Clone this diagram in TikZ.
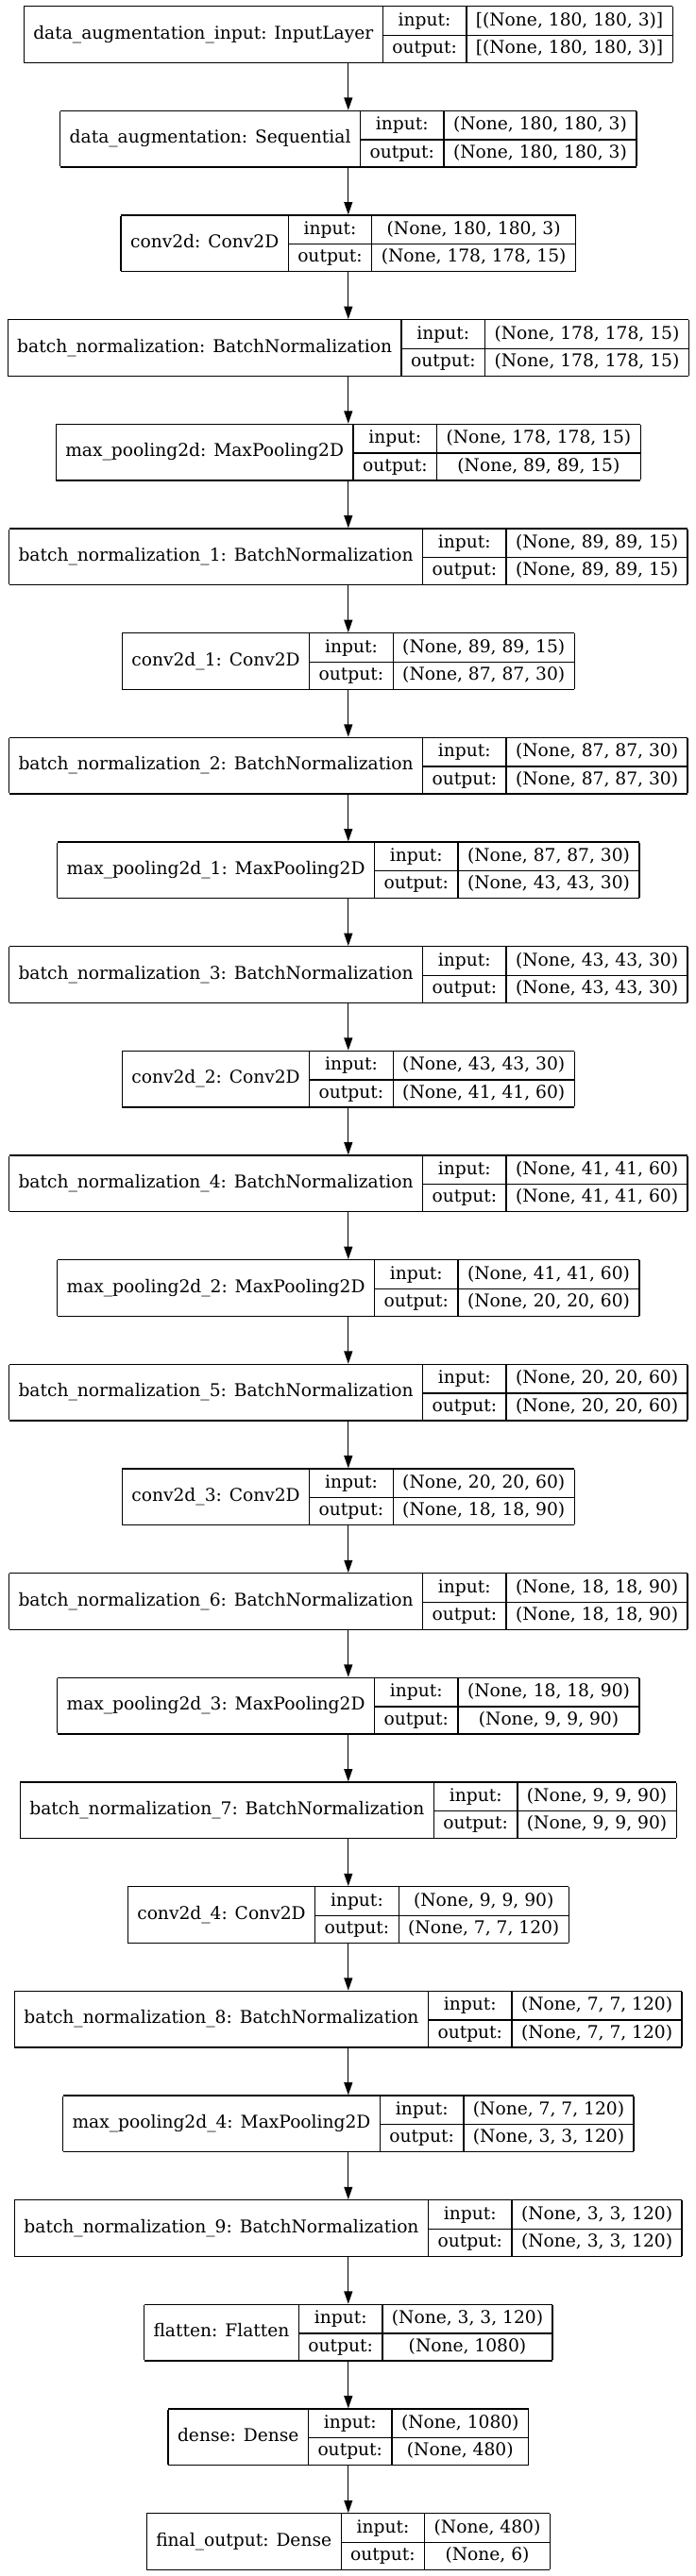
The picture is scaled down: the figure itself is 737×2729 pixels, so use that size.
\documentclass[tikz,border=0pt]{standalone}
\usepackage{fontspec}
\setmainfont{DejaVu Serif}
\usetikzlibrary{arrows.meta}
\newcommand\lyfont{\fontsize{18.73pt}{22pt}\selectfont}
\setlength\tabcolsep{10bp}
\setlength\arrayrulewidth{1.33bp}
\renewcommand\arraystretch{0}
\newcommand\rs{\rule[-9.27bp]{0pt}{29.17bp}}
\tikzset{
  layer/.style={rectangle, draw=none, inner sep=0pt, outer sep=0pt, font=\lyfont, text=black},
  arr/.style={-{Triangle[length=13.3bp,width=8.9bp]}, line width=1.33bp, draw=black}
}
\newcommand\mklayer[5]{%
  \node[layer] (#1) at (368.8bp, {-(36.5+#5*110.67)*1bp}) {%
    \begin{tabular}{|c|c|c|}\hline
      & input:\rs & #3\\ \cline{2-3}
      \raisebox{15.2bp}[0pt][0pt]{#2} & output:\rs & #4\\ \hline
    \end{tabular}};%
}
\begin{document}
\begin{tikzpicture}
\useasboundingbox[fill=white] (0,0) rectangle (737bp,-2729bp);
\mklayer{L0}{data\_augmentation\_input: InputLayer}{[(None, 180, 180, 3)]}{[(None, 180, 180, 3)]}{0}
\mklayer{L1}{data\_augmentation: Sequential}{(None, 180, 180, 3)}{(None, 180, 180, 3)}{1}
\mklayer{L2}{conv2d: Conv2D}{(None, 180, 180, 3)}{(None, 178, 178, 15)}{2}
\mklayer{L3}{batch\_normalization: BatchNormalization}{(None, 178, 178, 15)}{(None, 178, 178, 15)}{3}
\mklayer{L4}{max\_pooling2d: MaxPooling2D}{(None, 178, 178, 15)}{(None, 89, 89, 15)}{4}
\mklayer{L5}{batch\_normalization\_1: BatchNormalization}{(None, 89, 89, 15)}{(None, 89, 89, 15)}{5}
\mklayer{L6}{conv2d\_1: Conv2D}{(None, 89, 89, 15)}{(None, 87, 87, 30)}{6}
\mklayer{L7}{batch\_normalization\_2: BatchNormalization}{(None, 87, 87, 30)}{(None, 87, 87, 30)}{7}
\mklayer{L8}{max\_pooling2d\_1: MaxPooling2D}{(None, 87, 87, 30)}{(None, 43, 43, 30)}{8}
\mklayer{L9}{batch\_normalization\_3: BatchNormalization}{(None, 43, 43, 30)}{(None, 43, 43, 30)}{9}
\mklayer{L10}{conv2d\_2: Conv2D}{(None, 43, 43, 30)}{(None, 41, 41, 60)}{10}
\mklayer{L11}{batch\_normalization\_4: BatchNormalization}{(None, 41, 41, 60)}{(None, 41, 41, 60)}{11}
\mklayer{L12}{max\_pooling2d\_2: MaxPooling2D}{(None, 41, 41, 60)}{(None, 20, 20, 60)}{12}
\mklayer{L13}{batch\_normalization\_5: BatchNormalization}{(None, 20, 20, 60)}{(None, 20, 20, 60)}{13}
\mklayer{L14}{conv2d\_3: Conv2D}{(None, 20, 20, 60)}{(None, 18, 18, 90)}{14}
\mklayer{L15}{batch\_normalization\_6: BatchNormalization}{(None, 18, 18, 90)}{(None, 18, 18, 90)}{15}
\mklayer{L16}{max\_pooling2d\_3: MaxPooling2D}{(None, 18, 18, 90)}{(None, 9, 9, 90)}{16}
\mklayer{L17}{batch\_normalization\_7: BatchNormalization}{(None, 9, 9, 90)}{(None, 9, 9, 90)}{17}
\mklayer{L18}{conv2d\_4: Conv2D}{(None, 9, 9, 90)}{(None, 7, 7, 120)}{18}
\mklayer{L19}{batch\_normalization\_8: BatchNormalization}{(None, 7, 7, 120)}{(None, 7, 7, 120)}{19}
\mklayer{L20}{max\_pooling2d\_4: MaxPooling2D}{(None, 7, 7, 120)}{(None, 3, 3, 120)}{20}
\mklayer{L21}{batch\_normalization\_9: BatchNormalization}{(None, 3, 3, 120)}{(None, 3, 3, 120)}{21}
\mklayer{L22}{flatten: Flatten}{(None, 3, 3, 120)}{(None, 1080)}{22}
\mklayer{L23}{dense: Dense}{(None, 1080)}{(None, 480)}{23}
\mklayer{L24}{final\_output: Dense}{(None, 480)}{(None, 6)}{24}
\foreach \a/\b in {L0/L1,L1/L2,L2/L3,L3/L4,L4/L5,L5/L6,L6/L7,L7/L8,L8/L9,L9/L10,L10/L11,L11/L12,L12/L13,L13/L14,L14/L15,L15/L16,L16/L17,L17/L18,L18/L19,L19/L20,L20/L21,L21/L22,L22/L23,L23/L24}
  \draw[arr] (\a.south) -- (\b.north);
\end{tikzpicture}
\end{document}
